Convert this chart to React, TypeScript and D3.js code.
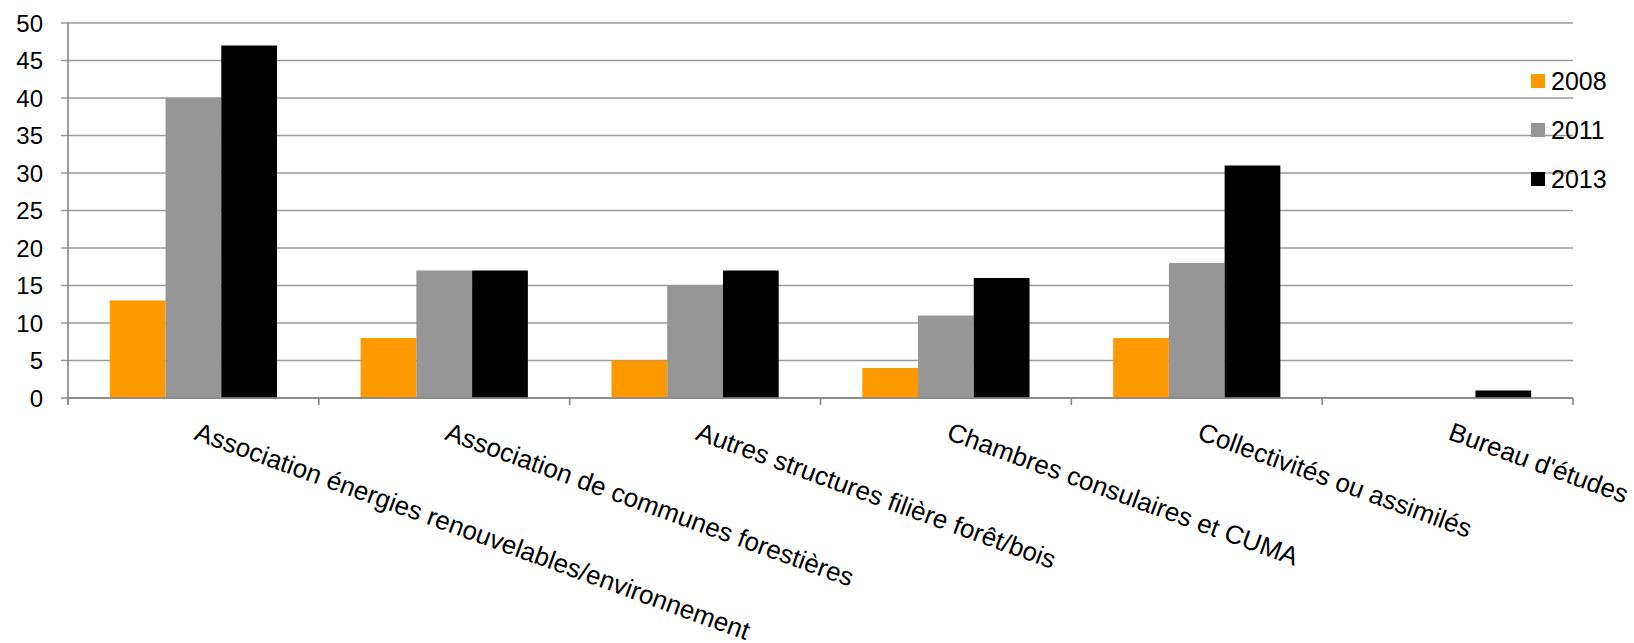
import { useMemo } from 'react'
import * as d3 from 'd3'

const categories = [
  'Association énergies renouvelables/environnement',
  'Association de communes forestières',
  'Autres structures filière forêt/bois',
  'Chambres consulaires et CUMA',
  'Collectivités ou assimilés',
  "Bureau d'études",
]
const seriesNames = ['2008', '2011', '2013']
const values2008 = [13, 8, 5, 4, 8, 0]
const values2011 = [40, 17, 15, 11, 18, 0]
const values2013 = [47, 17, 17, 16, 31, 1]
const yTicks = [0, 5, 10, 15, 20, 25, 30, 35, 40, 45, 50]
const colors = ['#ff9900', '#969696', '#000000']

const width = 1634
const height = 643
const margin = { top: 23, right: 61, bottom: 245, left: 68 }
const font = "'Liberation Sans', Arial, sans-serif"

export default function App() {
  const seriesValues = [values2008, values2011, values2013]

  // scales
  const x0 = useMemo(() => d3.scaleBand()
    .domain(categories)
    .range([margin.left, width - margin.right])
    .padding(0), [])

  const bw = x0.bandwidth()
  const gap = bw * 1.5 / 4.5 // excel gap width ~150%

  const x1 = d3.scaleBand()
    .domain(seriesNames)
    .range([gap / 2, bw - gap / 2])
    .padding(0)

  const y = d3.scaleLinear()
    .domain([0, 50])
    .range([height - margin.bottom, margin.top])

  const x0Left = margin.left
  const x0Right = width - margin.right
  const yBase = y(0)
  const axisColor = '#878787'
  const gridColor = '#9a9a9a'

  const boundaries = categories.map(c => x0(c) || 0).concat([x0Right])

  return (
    <svg width={width} height={height} style={{ position: 'absolute', left: 0, top: 0, background: '#fff' }}
      fontFamily={font}>
      {/* gridlines + y ticks */}
      {yTicks.map(t => (
        <g key={t}>
          <line x1={x0Left - 7} x2={x0Right} y1={y(t)} y2={y(t)}
            stroke={t === 0 ? axisColor : gridColor} strokeWidth={1.6} />
          <text x={43} y={y(t)} dy="0.36em" textAnchor="end" fontSize={24} fill="#000">{t}</text>
        </g>
      ))}

      {/* bars */}
      {categories.map((c, i) => (
        <g key={c} transform={`translate(${x0(c)},0)`}>
          {seriesNames.map((s, j) => {
            const v = seriesValues[j][i]
            if (v <= 0) return null
            return (
              <rect key={s} x={x1(s)} y={y(v)} width={x1.bandwidth()} height={yBase - y(v)} fill={colors[j]} />
            )
          })}
        </g>
      ))}

      {/* axes */}
      <line x1={x0Left} x2={x0Left} y1={y(50)} y2={yBase + 7} stroke={axisColor} strokeWidth={1.6} />
      <line x1={x0Left} x2={x0Right} y1={yBase} y2={yBase} stroke={axisColor} strokeWidth={1.6} />
      {boundaries.map((b, i) => (
        <line key={i} x1={b} x2={b} y1={yBase} y2={yBase + 7} stroke={axisColor} strokeWidth={1.6} />
      ))}

      {/* category labels */}
      {categories.map(c => {
        const cx = (x0(c) || 0) + bw / 2
        return (
          <text key={c} transform={`translate(${cx - 0.5},${yBase + 41}) rotate(20)`}
            fontSize={26} fill="#000" textAnchor="start">{c}</text>
        )
      })}

      {/* legend */}
      {seriesNames.map((s, j) => {
        const cy = 81 + j * 49
        return (
          <g key={s}>
            <rect x={1531} y={cy - 7} width={14} height={14} fill={colors[j]} />
            <text x={1551} y={cy} dy="0.36em" fontSize={25} fill="#000">{s}</text>
          </g>
        )
      })}
    </svg>
  )
}
